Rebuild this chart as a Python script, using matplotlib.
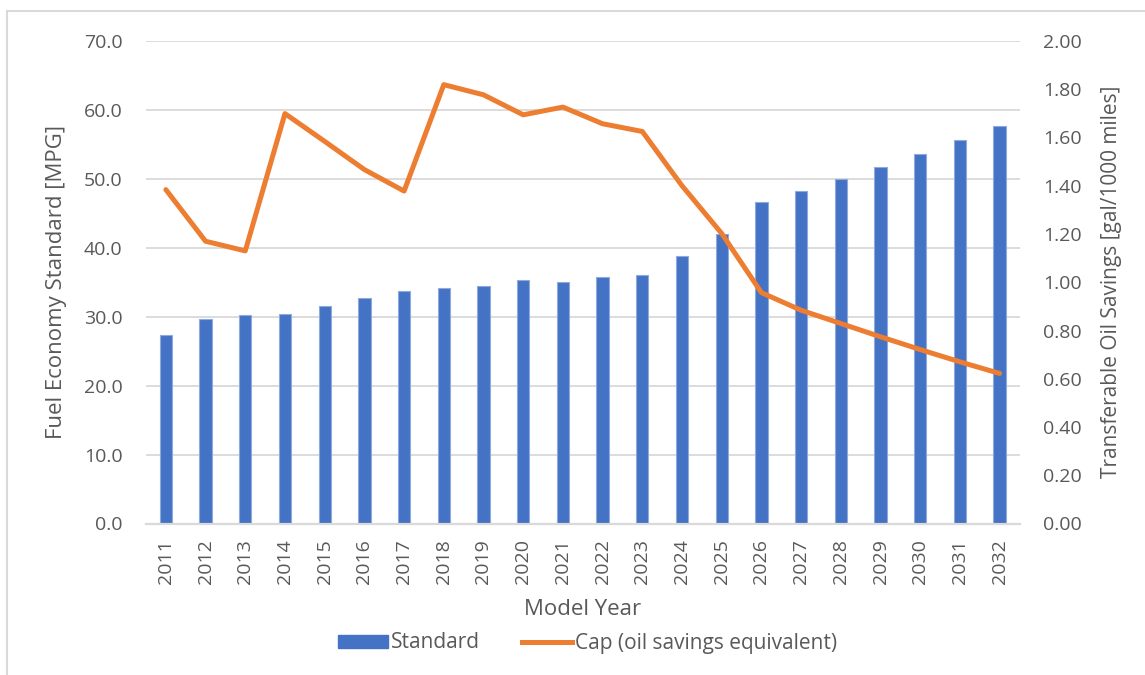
import matplotlib
matplotlib.use("Agg")
import matplotlib.pyplot as plt
from matplotlib.patches import Rectangle
from matplotlib.lines import Line2D
from matplotlib.patches import Patch

years = [str(y) for y in range(2011, 2033)]
standard_mpg = [27.3, 29.7, 30.2, 30.4, 31.5, 32.7, 33.7, 34.1, 34.5, 35.3, 35.0,
                35.7, 36.0, 38.8, 42.0, 46.6, 48.2, 50.0, 51.7, 53.6, 55.6, 57.6]
cap_gal = [1.384, 1.170, 1.130, 1.699, 1.584, 1.467, 1.378, 1.819, 1.777, 1.694, 1.726,
           1.657, 1.625, 1.400, 1.202, 0.957, 0.884, 0.829, 0.774, 0.721, 0.670, 0.622]
left_ticks = [0, 10, 20, 30, 40, 50, 60, 70]
right_ticks = [0.0, 0.2, 0.4, 0.6, 0.8, 1.0, 1.2, 1.4, 1.6, 1.8, 2.0]

FONT = "Open Sans"
GRAY = "#595959"
BLUE = "#4472C4"
ORANGE = "#ED7D31"
GRID = "#D9D9D9"

plt.rcParams['font.family'] = [FONT, 'DejaVu Sans']

W, H = 1145, 675
fig = plt.figure(figsize=(W / 100, H / 100), dpi=100)
ax = fig.add_axes([146 / W, 1 - 523.5 / H, (1019.5 - 146) / W, (523.5 - 41) / H])

x = list(range(len(years)))
ax.bar(x, standard_mpg, width=0.31, color=BLUE, edgecolor="#8FAADC", linewidth=0.8, zorder=2)
ax.set_xlim(-0.5, len(years) - 0.5)
ax.set_ylim(0, 70)
ax.set_yticks(left_ticks)
ax.set_yticklabels([f"{v:.1f}" for v in left_ticks])
ax.set_xticks(x)
ax.set_xticklabels(years, rotation=90)
ax.grid(axis="y", color=GRID, linewidth=1.3, zorder=0)
ax.set_axisbelow(True)
for s in ["top", "right", "left"]:
    ax.spines[s].set_visible(False)
ax.spines["bottom"].set_color(GRID)
ax.spines["bottom"].set_linewidth(1.6)
ax.tick_params(axis="both", length=0, colors=GRAY, labelsize=14)
ax.tick_params(axis="y", pad=17)
ax.tick_params(axis="x", pad=11)
ax.set_ylabel("Fuel Economy Standard [MPG]", color=GRAY, fontsize=16, labelpad=12)
ax.set_xlabel("Model Year", color=GRAY, fontsize=16, labelpad=11)

ax2 = ax.twinx()
ax2.plot(x, cap_gal, color=ORANGE, linewidth=3.6, solid_joinstyle="round",
         solid_capstyle="round", zorder=3)
ax2.set_ylim(0, 2.0)
ax2.set_yticks(right_ticks)
ax2.set_yticklabels([f"{v:.2f}" for v in right_ticks])
for s in ["top", "right", "left", "bottom"]:
    ax2.spines[s].set_visible(False)
ax2.tick_params(axis="y", length=0, colors=GRAY, labelsize=14, pad=17)
ax2.set_ylabel("Transferable Oil Savings [gal/1000 miles]", color=GRAY, fontsize=15, labelpad=14)

handles = [Patch(facecolor=BLUE, edgecolor=BLUE),
           Line2D([0], [0], color=ORANGE, linewidth=3.6)]
fig.legend(handles, ["Standard", "Cap (oil savings equivalent)"], loc="center",
           bbox_to_anchor=(0.5 + 15 / W, 1 - 643 / H), ncol=2, frameon=False, fontsize=15,
           labelcolor=GRAY, handlelength=2.4, handleheight=0.6, handletextpad=0.15,
           columnspacing=2.0)

fig.patches.append(Rectangle((7 / W, -0.1), 1.2, 1 - 11 / H + 0.1, transform=fig.transFigure,
                             fill=False, edgecolor=GRID, linewidth=1.5))

fig.savefig("out.png", dpi=100)
